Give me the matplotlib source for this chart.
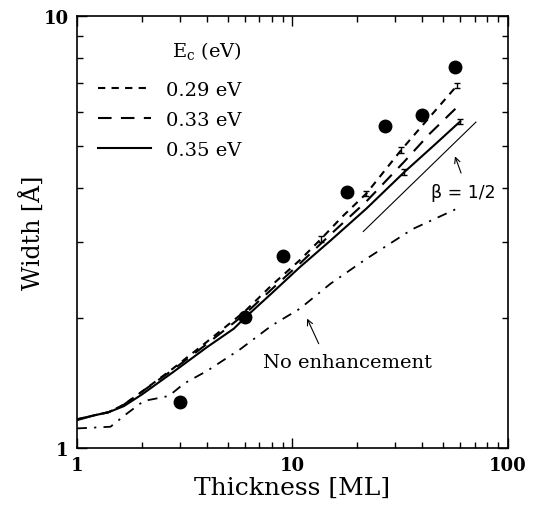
import numpy as np
import matplotlib
matplotlib.use('Agg')
import matplotlib.pyplot as plt

# 数据：厚度 (ML) 与宽度 (Å)
x_029 = [1, 1.2, 1.4, 1.65, 2, 2.8, 4, 6, 8, 10.8, 13.6, 16.9, 22, 32, 43.5, 58]
y_029 = [1.165, 1.19, 1.21, 1.26, 1.35, 1.53, 1.76, 2.07, 2.38, 2.72, 3.05, 3.42, 3.88, 4.9, 5.85, 6.9]

x_033 = [1, 1.2, 1.4, 1.65, 2, 2.8, 4, 6, 8, 10.8, 15, 22, 33, 43.5, 58]
y_033 = [1.165, 1.19, 1.21, 1.26, 1.35, 1.52, 1.74, 2.04, 2.33, 2.67, 3.12, 3.72, 4.6, 5.35, 6.15]

x_035 = [1, 1.2, 1.4, 1.65, 2, 2.8, 4, 5.35, 6, 8, 10.8, 15, 22, 33, 45, 60]
y_035 = [1.16, 1.19, 1.21, 1.25, 1.33, 1.50, 1.71, 1.89, 2.0, 2.28, 2.62, 3.02, 3.58, 4.35, 5.0, 5.7]

x_none = [1, 1.2, 1.43, 1.7, 2.04, 2.3, 2.67, 3.14, 4.03, 5.74, 8, 10.8, 15, 22, 36, 60]
y_none = [1.11, 1.115, 1.12, 1.2, 1.285, 1.30, 1.32, 1.41, 1.51, 1.695, 1.92, 2.10, 2.40, 2.74, 3.21, 3.61]

# 实验点
x_exp = [3, 6, 9, 18, 27, 40, 57]
y_exp = [1.28, 2.01, 2.78, 3.92, 5.56, 5.89, 7.62]

# 误差棒
x_err_029 = [13.6, 22, 32, 58]
y_err_029 = [3.05, 3.88, 4.9, 6.9]
x_err_035 = [33, 60]
y_err_035 = [4.35, 5.7]
err_size = 0.015

# beta = 1/2 参考线
x_beta = [21.3, 71]
y_beta = [3.17, 5.68]

plt.rcParams['font.family'] = ['DejaVu Serif']
plt.rcParams['mathtext.fontset'] = 'dejavuserif'

fig = plt.figure(figsize=(5.4, 5.1), dpi=100)
ax = fig.add_axes([0.1426, 0.1196, 0.7981, 0.8471])

ax.plot(x_029, y_029, color='k', lw=1.5, dashes=(3.5, 3), label='0.29 eV')
ax.plot(x_033, y_033, color='k', lw=1.5, dashes=(6.5, 4.5), label='0.33 eV')
ax.plot(x_035, y_035, color='k', lw=1.5, label='0.35 eV')
ax.plot(x_none, y_none, color='k', lw=1.3, dashes=(5.5, 4, 1.2, 4))
ax.plot(x_beta, y_beta, color='k', lw=0.8)

ax.errorbar(x_err_029, y_err_029, yerr=[v * err_size for v in y_err_029], fmt='none',
            ecolor='k', elinewidth=1, capsize=2.5)
ax.errorbar(x_err_035, y_err_035, yerr=[v * err_size for v in y_err_035], fmt='none',
            ecolor='k', elinewidth=1, capsize=2.5)

ax.plot(x_exp, y_exp, 'o', color='k', ms=9)

ax.set_xscale('log')
ax.set_yscale('log')
ax.set_xlim(1, 100)
ax.set_ylim(1, 10)
ax.set_xticks([1, 10, 100])
ax.set_xticklabels(['1', '10', '100'])
ax.set_yticks([1, 10])
ax.set_yticklabels(['1', '10'])
ax.yaxis.set_minor_formatter(matplotlib.ticker.NullFormatter())
ax.xaxis.set_minor_formatter(matplotlib.ticker.NullFormatter())
ax.tick_params(which='both', direction='in', top=True, right=True, width=1)
ax.tick_params(which='major', length=7, labelsize=13, pad=6)
ax.tick_params(which='minor', length=4)
for lab in ax.get_xticklabels() + ax.get_yticklabels():
    lab.set_fontweight('bold')
for s in ax.spines.values():
    s.set_linewidth(1.2)

ax.set_xlabel('Thickness [ML]', fontsize=18, labelpad=1)
ax.set_ylabel('Width [Å]', fontsize=17, labelpad=-2)

leg = ax.legend(loc='upper left', bbox_to_anchor=(-0.034, 1.031), frameon=False,
                fontsize=14, title='E$_\\mathregular{c}$ (eV)', title_fontsize=14,
                handlelength=2.7, labelspacing=0.62, borderpad=1.35, alignment='right')
leg._legend_box.sep = 14.5  # 标题与条目之间留更大空隙

# 注释
ax.text(43.9, 3.92, 'β = 1/2', fontsize=12.5, family='DejaVu Sans', va='center')
ax.annotate('', xy=(56.2, 4.80), xytext=(61.2, 4.27),
            arrowprops=dict(arrowstyle='->', color='k', lw=0.8))
ax.text(7.3, 1.58, 'No enhancement', fontsize=14, va='center')
ax.annotate('', xy=(11.55, 2.02), xytext=(13.4, 1.72),
            arrowprops=dict(arrowstyle='->', color='k', lw=0.8))

fig.savefig('out.png', dpi=100)
